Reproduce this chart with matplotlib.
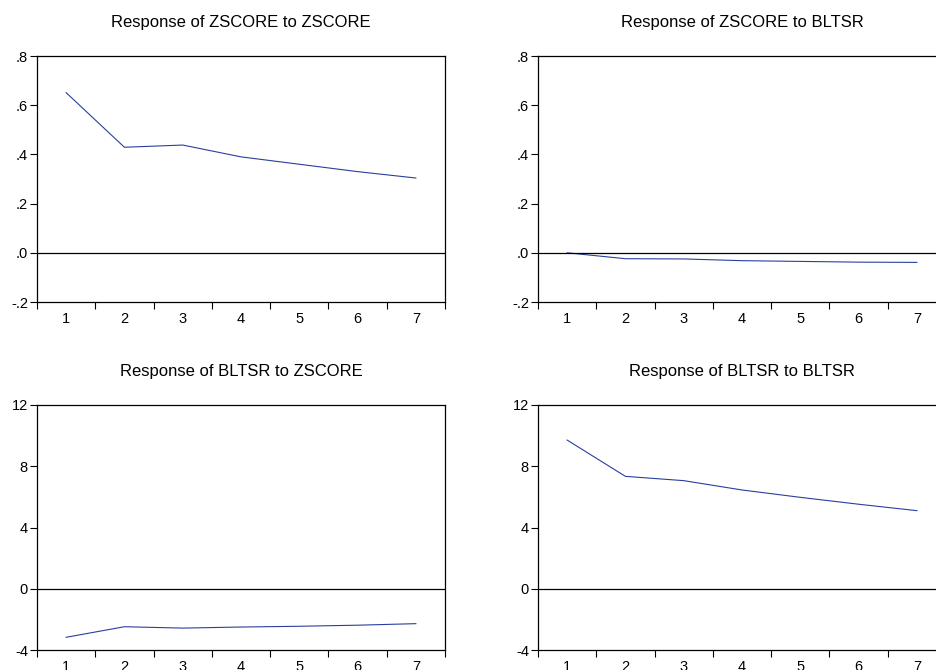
import numpy as np
import matplotlib
matplotlib.use("Agg")
import matplotlib.pyplot as plt
from matplotlib.ticker import FixedLocator, FuncFormatter

plt.rcParams['font.family'] = ['Liberation Sans', 'DejaVu Sans']
plt.rcParams['axes.unicode_minus'] = False

periods = [1, 2, 3, 4, 5, 6, 7]

# impulse responses
zscore_to_zscore = [0.651, 0.429, 0.438, 0.390, 0.360, 0.330, 0.304]
zscore_to_bltsr = [0.000, -0.024, -0.025, -0.032, -0.035, -0.038, -0.039]
bltsr_to_zscore = [-3.17, -2.48, -2.57, -2.50, -2.45, -2.38, -2.28]
bltsr_to_bltsr = [9.71, 7.34, 7.06, 6.45, 5.97, 5.52, 5.10]

titles = ["Response of ZSCORE to ZSCORE", "Response of ZSCORE to BLTSR",
          "Response of BLTSR to ZSCORE", "Response of BLTSR to BLTSR"]
series = [zscore_to_zscore, zscore_to_bltsr, bltsr_to_zscore, bltsr_to_bltsr]
yticks_top = [-0.2, 0.0, 0.2, 0.4, 0.6, 0.8]
yticks_bot = [-4, 0, 4, 8, 12]


def dot_fmt(v, pos):
    s = f"{v:.1f}"
    s = s.replace("0.", ".")
    return s


W, H = 936, 670
fig = plt.figure(figsize=(W / 100, H / 100), dpi=100)

# axes boxes in pixels: left, top, right, bottom
boxes = [(37, 56, 445, 302), (538, 56, 946, 302),
         (37, 405, 445, 650), (538, 405, 946, 650)]

for k, (l, t, r, b) in enumerate(boxes):
    ax = fig.add_axes([l / W, 1 - b / H, (r - l) / W, (b - t) / H])
    ax.plot(periods, series[k], color='#2a3f9d', linewidth=0.8)
    ax.axhline(0, color='black', linewidth=0.9)
    ax.set_xlim(0.5, 7.5)
    if k < 2:
        ax.set_ylim(-0.2, 0.8)
        ax.set_yticks(yticks_top)
        ax.yaxis.set_major_formatter(FuncFormatter(dot_fmt))
    else:
        ax.set_ylim(-4, 12)
        ax.set_yticks(yticks_bot)
    ax.set_xticks(periods)
    ax.xaxis.set_minor_locator(FixedLocator(np.arange(0.5, 8.0, 1.0)))
    ax.tick_params(axis='x', which='major', length=0, pad=7.5, labelsize=10.5)
    ax.tick_params(axis='x', which='minor', length=5, width=0.8, direction='out')
    ax.tick_params(axis='y', length=5, width=0.8, direction='out', pad=1.5,
                   labelsize=10.5)
    for sp in ax.spines.values():
        sp.set_linewidth(0.9)
    ax.set_title(titles[k], fontsize=12, pad=21)

fig.savefig("out.png", dpi=100)
